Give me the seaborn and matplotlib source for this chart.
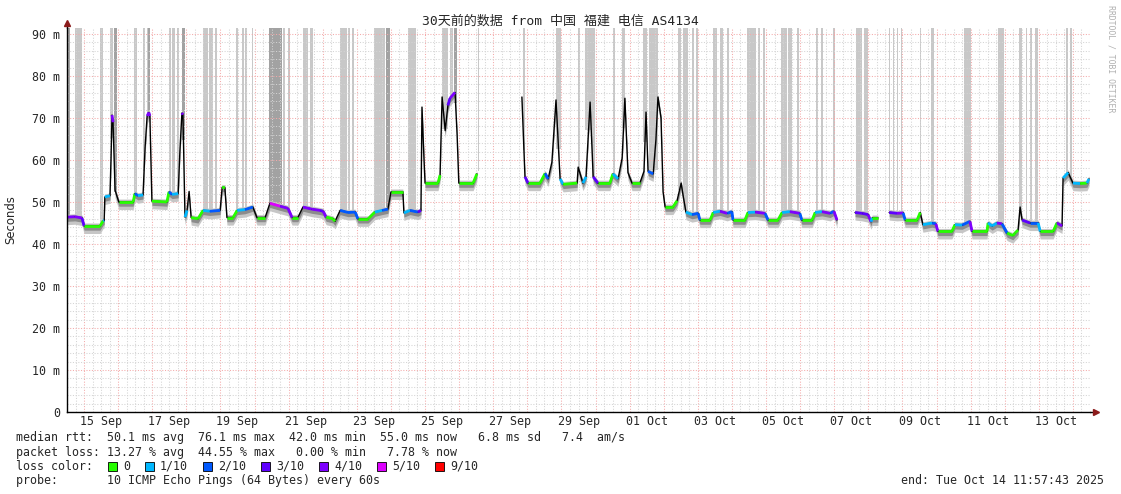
import numpy as np
import pandas as pd
import matplotlib.pyplot as plt
from matplotlib.patches import Rectangle
import seaborn as sns

sns.set_style("white")
plt.rcParams['font.family'] = ['DejaVu Sans Mono', 'Noto Sans CJK SC']

# median rtt, time in days since 14 Sep 00:00 (NaN row = no data)
t_day = [0.50, 0.73, 0.94, 1.00, 1.47, 1.56, 1.59, 1.61, 1.76, 1.79,
         1.82, 1.85, 1.91, 2.02, 2.44, 2.49, 2.58, 2.73, 2.79, 2.85,
         2.90, 2.93, 2.99, 3.43, 3.49, 3.58, 3.76, 3.81, 3.87, 3.90,
         3.96, 4.02, 4.08, 4.14, 4.34, 4.49, 4.69, 4.99, 5.05, 5.13,
         5.19, 5.37, 5.49, 5.72, 5.95, 6.07, 6.31, 6.45, 6.75, 6.98,
         7.10, 7.27, 7.42, 7.68, 7.92, 8.01, 8.10, 8.30, 8.36, 8.51,
         8.74, 8.95, 9.03, 9.33, 9.53, 9.74, 9.91, 10.00, 10.35, 10.38,
         10.56, 10.79, 10.88, 10.91, 10.97, 11.00, 11.38, 11.44, 11.50, 11.59,
         11.67, 11.73, 11.88, 11.94, 11.99, 12.41, 12.52,
         12.60,
         13.84, 13.93, 14.02, 14.37, 14.52, 14.61, 14.72, 14.84, 14.96, 15.05,
         15.46, 15.49, 15.63, 15.72, 15.84, 15.93, 16.07, 16.42, 16.51, 16.66,
         16.78, 16.86, 16.95, 17.07, 17.30, 17.42, 17.48, 17.54, 17.69, 17.77,
         17.83, 17.92, 17.98, 18.04, 18.27, 18.39, 18.51, 18.57, 18.65, 18.83,
         19.01, 19.06, 19.36, 19.45, 19.65, 19.86, 20.00, 20.03, 20.38, 20.47,
         20.68, 20.97, 21.06, 21.35, 21.47, 21.70, 21.99, 22.05, 22.35, 22.44,
         22.64, 22.88, 22.99, 23.08,
         23.20,
         23.61, 23.82, 23.99, 24.08, 24.11, 24.28,
         24.40,
         24.61, 24.84, 25.02, 25.08, 25.43, 25.52, 25.60, 25.87, 25.98, 26.04,
         26.45, 26.54, 26.75, 26.98, 27.04, 27.48, 27.51, 27.63, 27.77, 27.92,
         28.07, 28.24, 28.30, 28.39, 28.45, 28.51, 28.74, 28.98, 29.04, 29.42,
         29.53, 29.68, 29.71, 29.86, 30.00, 30.21, 30.41, 30.47]

rtt_ms = [46.4, 46.5, 46.2, 44.3, 44.3, 45.5, 45.6, 51.2, 51.5, 60.0,
          70.7, 69.0, 52.8, 50.0, 50.0, 52.0, 51.5, 51.7, 63.0, 70.5,
          71.3, 70.5, 50.2, 50.0, 52.4, 51.8, 52.0, 62.0, 71.2, 70.8,
          46.4, 48.0, 52.5, 46.3, 46.0, 48.0, 47.8, 48.0, 53.5, 53.4,
          46.3, 46.3, 48.0, 48.2, 48.8, 46.3, 46.3, 49.7, 49.0, 48.5,
          46.3, 46.3, 48.8, 48.3, 48.0, 47.8, 46.4, 46.0, 45.4, 48.0,
          47.5, 47.6, 46.0, 46.0, 47.6, 48.0, 48.3, 52.4, 52.4, 47.4,
          48.0, 47.6, 48.0, 72.6, 60.0, 54.5, 54.5, 56.4, 75.0, 67.0,
          73.0, 74.7, 76.1, 66.0, 54.5, 54.5, 56.7,
          np.nan,
          75.0, 56.0, 54.5, 54.5, 56.8, 55.5, 59.5, 74.3, 55.5, 54.2,
          54.5, 58.3, 54.5, 56.0, 73.8, 56.0, 54.5, 54.5, 56.7, 55.5,
          60.5, 74.7, 57.0, 54.5, 54.5, 57.3, 71.4, 57.3, 56.7, 64.8,
          75.0, 70.0, 52.4, 48.8, 48.8, 50.3, 54.5, 51.4, 47.6, 47.0,
          47.3, 45.7, 45.7, 47.5, 47.8, 47.3, 47.7, 45.7, 45.7, 47.5,
          47.6, 47.3, 45.7, 45.7, 47.5, 47.7, 47.3, 45.7, 45.7, 47.5,
          47.7, 47.3, 47.8, 45.7,
          np.nan,
          47.5, 47.3, 47.0, 45.3, 46.2, 46.2,
          np.nan,
          47.5, 47.3, 47.4, 45.7, 45.7, 47.5, 44.6, 45.0, 44.8, 43.0,
          43.0, 44.6, 44.5, 45.4, 43.0, 43.0, 45.0, 44.3, 45.0, 44.8,
          42.6, 42.0, 42.6, 43.3, 48.8, 45.7, 45.0, 45.0, 43.0, 43.0,
          45.0, 44.3, 55.7, 57.0, 54.5, 54.4, 54.5, 55.5]

loss_lvl = [4, 4, 3, 0, 0, 1, 1, 1, 1, 3, 4, 4, 3, 0, 0, 2, 1, 1, 2, 4,
            4, 4, 0, 0, 2, 1, 1, 3, 4, 4, 1, 1, 0, 0, 0, 1, 2, 2, 0, 0,
            0, 0, 1, 2, 4, 0, 0, 5, 4, 4, 0, 0, 4, 4, 3, 4, 0, 0, 0, 2,
            2, 2, 0, 0, 1, 2, 3, 0, 0, 1, 2, 3, 3, 4, 3, 0, 0, 1, 4, 2,
            3, 4, 5, 3, 0, 0, 2,
            0,
            4, 3, 0, 0, 2, 1, 1, 5, 1, 0, 0, 1, 1, 1, 4, 3, 0, 0, 1, 1,
            2, 4, 3, 0, 0, 1, 3, 2, 3, 2, 4, 3, 2, 0, 0, 1, 3, 2, 1, 2,
            2, 0, 0, 1, 4, 2, 2, 0, 0, 1, 4, 2, 0, 0, 1, 4, 2, 0, 0, 1,
            4, 2, 4, 1,
            0,
            3, 3, 4, 1, 0, 0,
            0,
            3, 4, 2, 0, 0, 4, 1, 2, 4, 0, 0, 1, 2, 4, 0, 0, 1, 1, 4, 2,
            0, 0, 0, 1, 4, 3, 2, 1, 0, 0, 4, 1, 1, 4, 1, 0, 1, 1]

# periods with pings above the scale (smoke reaching the top)
bar_start = [0.47, 0.73, 1.47, 1.76, 1.88, 2.46, 2.73, 2.85, 2.88, 3.49,
             3.58, 3.73, 3.87, 4.49, 4.66, 4.84, 5.46, 5.63, 5.72, 5.93,
             6.42, 6.83, 6.98, 7.42, 7.63, 8.51, 8.74, 8.86, 9.50, 9.86,
             10.50, 11.50, 11.73, 11.85, 12.55, 13.87, 14.84, 15.49, 15.69, 15.90,
             16.51, 16.78, 17.39, 17.57, 18.42, 18.57, 18.83, 18.95, 19.45, 19.65,
             19.86, 20.44, 20.77, 20.91, 21.44, 21.64, 21.91, 22.47, 22.61, 22.96,
             23.64, 23.87, 24.61, 24.72, 24.84, 24.96, 25.52, 25.84, 26.81, 27.80,
             28.42, 28.62, 28.74, 28.89, 29.80, 29.92]
bar_end = [0.59, 0.94, 1.56, 1.85, 1.97, 2.55, 2.79, 2.88, 2.93, 3.55,
           3.67, 3.78, 3.96, 4.63, 4.78, 4.90, 5.51, 5.69, 5.78, 5.96,
           6.81, 6.89, 7.04, 7.57, 7.71, 8.71, 8.80, 8.92, 9.83, 9.97,
           10.73, 11.67, 11.82, 11.94, 12.58, 13.93, 14.99, 15.54, 15.90, 15.98,
           16.57, 16.86, 17.51, 17.83, 18.51, 18.71, 18.89, 19.01, 19.56, 19.74,
           19.91, 20.71, 20.82, 20.97, 21.61, 21.76, 21.96, 22.52, 22.67, 23.02,
           23.81, 23.99, 24.64, 24.75, 24.87, 24.99, 25.55, 25.93, 27.01, 27.98,
           28.51, 28.65, 28.80, 28.98, 29.86, 29.97]
bar_dark = [1, 0, 0, 0, 1, 0, 0, 0, 1, 0,
            0, 0, 1, 0, 0, 0, 0, 0, 0, 0,
            1, 0, 0, 0, 0, 0, 0, 0, 0, 1,
            0, 0, 0, 1, 0, 0, 0, 0, 0, 0,
            0, 0, 0, 0, 0, 0, 0, 0, 0, 0,
            0, 0, 0, 0, 0, 0, 0, 0, 0, 0,
            0, 0, 0, 0, 0, 0, 0, 0, 0, 0,
            0, 0, 0, 0, 0, 0]

loss_colors = {0: '#26ff00', 1: '#00b8ff', 2: '#0059ff', 3: '#5e00ff',
               4: '#7e00ff', 5: '#dd00ff', 9: '#ff0000'}
legend_levels = [0, 1, 2, 3, 4, 5, 9]
legend_labels = ['0', '1/10', '2/10', '3/10', '4/10', '5/10', '9/10']

date_labels = ['15 Sep', '17 Sep', '19 Sep', '21 Sep', '23 Sep', '25 Sep', '27 Sep',
               '29 Sep', '01 Oct', '03 Oct', '05 Oct', '07 Oct', '09 Oct', '11 Oct', '13 Oct']
date_pos = [1.5, 3.5, 5.5, 7.5, 9.5, 11.5, 13.5, 15.5, 17.5, 19.5, 21.5, 23.5, 25.5, 27.5, 29.5]

y_ticks = [0, 10, 20, 30, 40, 50, 60, 70, 80, 90]
y_labels = ['0', '10 m', '20 m', '30 m', '40 m', '50 m', '60 m', '70 m', '80 m', '90 m']

title = '30天前的数据 from 中国 福建 电信 AS4134'
stat_lines = [
    'median rtt:  50.1 ms avg  76.1 ms max  42.0 ms min  55.0 ms now   6.8 ms sd   7.4  am/s',
    'packet loss: 13.27 % avg  44.55 % max   0.00 % min   7.78 % now',
]
probe_line = 'probe:       10 ICMP Echo Pings (64 Bytes) every 60s'
end_line = 'end: Tue Oct 14 11:57:43 2025'

# ---------------------------------------------------------------
W, H = 1121, 494
YMAX = 91.43
FS = 8.4

df = pd.DataFrame({'day': t_day, 'ms': rtt_ms, 'loss': loss_lvl})
df['seg'] = df['ms'].isna().cumsum()
df = df.dropna().reset_index(drop=True)

fig = plt.figure(figsize=(W / 100, H / 100), dpi=100)
ax = fig.add_axes([67 / W, 82 / H, 1023 / W, 384 / H])

# smoke above the scale
bs = np.array(bar_start)
be = np.array(bar_end)
bottoms = np.interp((bs + be) / 2, df['day'], df['ms'])
ax.bar(bs, YMAX - bottoms, width=be - bs, bottom=bottoms, align='edge',
       color=['#a2a2a2' if d else '#c8c8c8' for d in bar_dark], linewidth=0, zorder=1)

# smoke around the median
for seg, g in df.groupby('seg'):
    ax.fill_between(g['day'], g['ms'] - 1.8, g['ms'] + 0.7, color='#c6c6c6', lw=0, zorder=3)
    ax.fill_between(g['day'], g['ms'] - 1.0, g['ms'] + 0.4, color='#8c8c8c', lw=0, zorder=3.1)

sns.lineplot(data=df, x='day', y='ms', units='seg', estimator=None, sort=False,
             color='black', linewidth=1.0, legend=False, ax=ax, zorder=4)

# loss-coloured median on the flat parts
for seg, g in df.groupby('seg'):
    d, v, l = g['day'].values, g['ms'].values, g['loss'].values
    for i in range(len(d) - 1):
        if abs(v[i + 1] - v[i]) < 2.5:
            ax.plot(d[i:i + 2], v[i:i + 2], color=loss_colors[l[i]], lw=2.0,
                    solid_capstyle='butt', zorder=5)

ax.set_xlim(0.5, 30.5)
ax.set_ylim(0, YMAX)
ax.set_xlabel('')
ax.set_ylabel('')

ax.set_yticks(y_ticks)
ax.set_yticklabels(y_labels)
ax.set_yticks(np.arange(0, 91, 2), minor=True)
ax.set_xticks(np.arange(1, 31))
ax.set_xticklabels([])
ax.set_xticks(np.arange(0.5, 30.51, 0.25), minor=True)

ax.tick_params(axis='y', which='major', length=3, color='#d89090', labelsize=FS, pad=2)
ax.tick_params(axis='y', which='minor', length=2, color='#c8c8c8')
ax.tick_params(axis='x', which='major', length=3, color='#e08080')
ax.tick_params(axis='x', which='minor', length=2, color='#c8c8c8')

ax.grid(which='major', color='#f4aaaa', linestyle=(0, (1, 1.6)), linewidth=0.75)
ax.grid(which='minor', color='#d4d4d4', linestyle=(0, (1, 1.6)), linewidth=0.75)
ax.set_axisbelow(False)

sns.despine(ax=ax)
for s in ['left', 'bottom']:
    ax.spines[s].set_color('black')
    ax.spines[s].set_linewidth(1.0)
    ax.spines[s].set_zorder(6)

# axis arrows
ax.plot([0, 0], [1, 1.014], transform=ax.transAxes, color='black', lw=1, clip_on=False)
ax.plot([0], [1.014], marker='^', ms=4, color='#8b1a1a', transform=ax.transAxes, clip_on=False)
ax.plot([1, 1.006], [0, 0], transform=ax.transAxes, color='black', lw=1, clip_on=False)
ax.plot([1.006], [0], marker='>', ms=4, color='#8b1a1a', transform=ax.transAxes, clip_on=False)

for p, lab in zip(date_pos, date_labels):
    ax.text(p, -9 / 384, lab, transform=ax.get_xaxis_transform(), ha='center', va='center',
            fontsize=FS)

# texts around the plot
def ftext(x, y, s, **kw):
    fig.text(x / W, 1 - y / H, s, **kw)

ftext(560, 21, title, ha='center', va='center', fontsize=9.4)
ftext(11, 220, 'Seconds', rotation=90, ha='center', va='center', fontsize=FS,
      family='DejaVu Sans')
ftext(16, 437, stat_lines[0], va='center', fontsize=FS)
ftext(16, 452, stat_lines[1], va='center', fontsize=FS)
ftext(16, 466, 'loss color:', va='center', fontsize=FS)
ftext(16, 480, probe_line, va='center', fontsize=FS)
ftext(1104, 480, end_line, ha='right', va='center', fontsize=FS)
ftext(1111, 5, 'RRDTOOL / TOBI OETIKER', rotation=270, ha='center', va='top',
      fontsize=5.9, color='#b0b0b0')

x = 108
for lvl, lab in zip(legend_levels, legend_labels):
    fig.add_artist(Rectangle((x / W, 1 - 470.5 / H), 9 / W, 9 / H, facecolor=loss_colors[lvl],
                             edgecolor='black', lw=0.6, transform=fig.transFigure))
    ftext(x + 15, 466, lab, va='center', fontsize=FS)
    x = x + 15 + 7 * len(lab) + 15

fig.savefig('out.png', dpi=100)
